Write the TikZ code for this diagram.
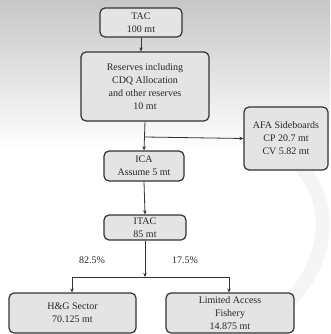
\documentclass[tikz,border=0pt]{standalone}
\usepackage{fontspec}
\setmainfont{Liberation Serif}
\usetikzlibrary{arrows.meta}
\definecolor{boxfill}{HTML}{E4E4E4}
\definecolor{boxline}{HTML}{333333}
\begin{document}
\begin{tikzpicture}[x=1pt,y=-1pt,
  box/.style={draw=boxline, line width=1.2pt, fill=boxfill, rounded corners=5pt,
    align=center, inner sep=0pt, font=\fontsize{10}{13}\selectfont, text=black!85},
  conn/.style={draw=black!80, line width=0.8pt},
  arr/.style={conn, -{Stealth[length=4pt,width=3.5pt]}},
  lbl/.style={font=\fontsize{10}{13}\selectfont, text=black!85}]
\useasboundingbox (0,0) rectangle (330,334);
\shade[top color=black!22, bottom color=white] (0,0) rectangle (330,150);
\draw[black!4, line width=14pt, line cap=round] (255,135) .. controls (340,170) and (345,260) .. (270,320);
\node[box, minimum width=82pt, minimum height=29pt] (tac) at (141,22.5) {TAC\\100 mt};
\node[box, minimum width=128pt, minimum height=69pt] (res) at (145,86.5) {Reserves including\\CDQ Allocation\\and other reserves\\10 mt};
\node[box, minimum width=84pt, minimum height=63pt] (afa) at (286,138.5) {AFA Sideboards\\CP 20.7 mt\\CV 5.82 mt};
\node[box, minimum width=80pt, minimum height=30pt] (ica) at (144,166) {ICA\\Assume 5 mt};
\node[box, minimum width=82pt, minimum height=25pt] (itac) at (145,227.5) {ITAC\\85 mt};
\node[box, minimum width=127pt, minimum height=40pt] (hg) at (72.5,313) {H\&G Sector\\70.125 mt};
\node[box, minimum width=128pt, minimum height=40pt] (laf) at (230,313) {Limited Access\\Fishery\\14.875 mt};
\coordinate (br1) at (145,137);
\coordinate (br2) at (145,277);
\coordinate (l) at (72,277);
\coordinate (r) at (229,277);
\draw[arr] (tac.south) -- (tac.south |- res.north);
\draw[arr] (res.south) -- (ica.north);
\draw[arr] (br1) -- (afa.west);
\draw[arr] (ica.south) -- (itac.north);
\draw[arr] (itac.south) -- (br2);
\draw[conn] (l) -- (r);
\draw[arr] (l) -- (hg.north -| l);
\draw[arr] (r) -- (laf.north -| r);
\node[lbl] (p1) at (92,260) {82.5\%};
\node[lbl] (p2) at (185,260) {17.5\%};
\end{tikzpicture}
\end{document}
